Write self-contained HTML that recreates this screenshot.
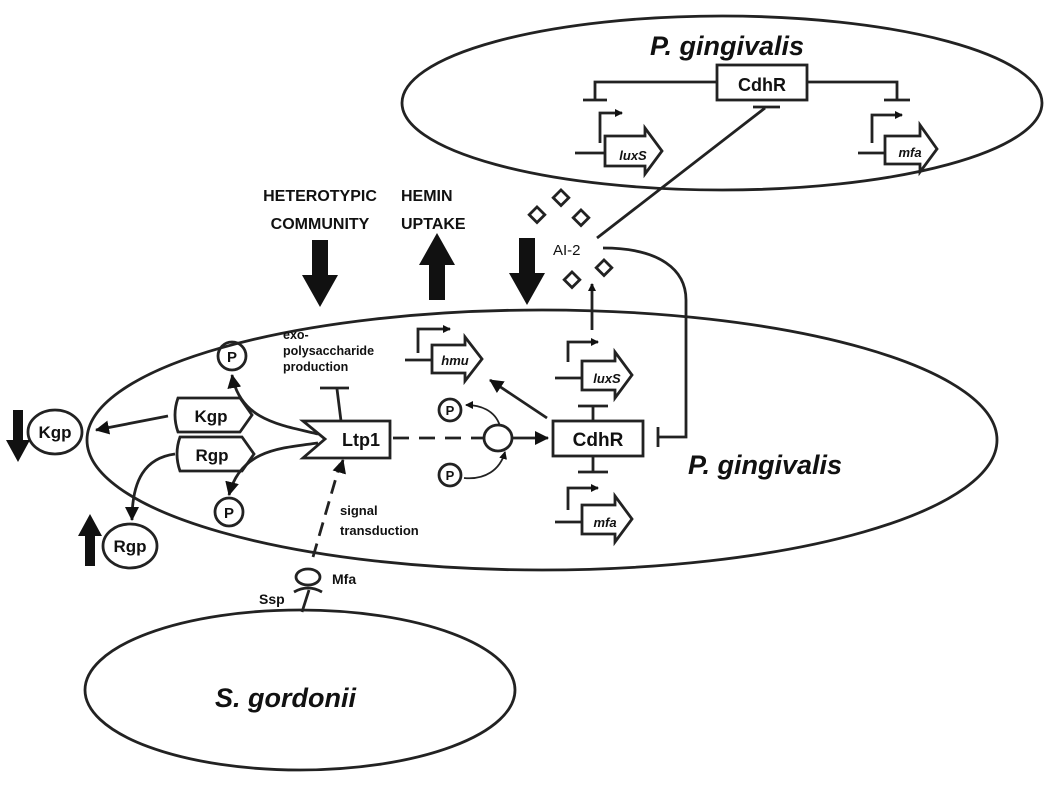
<!DOCTYPE html><html><head><style>body{margin:0;background:#fff}svg{display:block}text{font-family:"Liberation Sans",sans-serif;fill:#111}</style></head><body>
<svg width="1050" height="785" viewBox="0 0 1050 785" xmlns="http://www.w3.org/2000/svg">
<defs><marker id="a" markerWidth="8" markerHeight="8" refX="7" refY="4" orient="auto" markerUnits="userSpaceOnUse"><path d="M0,0 L8,4 L0,8z" fill="#111"/></marker>
<marker id="b" markerWidth="14" markerHeight="14" refX="13" refY="7" orient="auto" markerUnits="userSpaceOnUse"><path d="M0,0 L14,7 L0,14z" fill="#111"/></marker></defs>
<g fill="none" stroke="#222" stroke-width="2.8">
<ellipse cx="722" cy="103" rx="320" ry="87"/>
<ellipse cx="542" cy="440" rx="455" ry="130"/>
<ellipse cx="300" cy="690" rx="215" ry="80"/>
<rect x="717" y="65" width="90" height="35" fill="#fff"/>
<path d="M717,82 H595 V100 M583,100 H607 M807,82 H897 V100 M884,100 H910"/>
<path d="M753,107 H780 M765,108 L597,238"/>
<path d="M600,143 V113 H622" marker-end="url(#a)"/>
<path d="M575,153 H605"/>
<path d="M605,136 H645 V128 L662,151 L645,174 V166 H605z" fill="#fff"/>
<path d="M872,143 V115 H902" marker-end="url(#a)"/>
<path d="M858,153 H885"/>
<path d="M885,136 H920 V125 L937,149 L920,172 V164 H885z" fill="#fff"/>
<path d="M603,248 C660,248 686,270 686,300 V437 H659 M658,427 V447" />
<path d="M592,330 V284" marker-end="url(#a)"/>
<rect x="553" y="421" width="90" height="35"/>
<path d="M593,421 V406 M578,406 H608 M593,456 V472 M578,472 H608"/>
<path d="M568,362 V342 H598" marker-end="url(#a)"/>
<path d="M555,378 H582"/>
<path d="M582,361 H615 V352 L632,375 L615,398 V390 H582z" fill="#fff"/>
<path d="M568,510 V488 H598" marker-end="url(#a)"/>
<path d="M555,522 H582"/>
<path d="M582,505 H615 V496 L632,519 L615,542 V534 H582z" fill="#fff"/>
<path d="M418,353 V329 H450" marker-end="url(#a)"/>
<path d="M405,360 H432"/>
<path d="M432,345 H465 V337 L482,359 L465,381 V373 H432z" fill="#fff"/>
<path d="M547,418 L490,380" marker-end="url(#b)"/>
<ellipse cx="498" cy="438" rx="14" ry="13"/>
<path d="M393,438 H484" stroke-dasharray="16,10"/>
<path d="M513,438 H548" marker-end="url(#b)"/>
<circle cx="450" cy="410" r="11"/><circle cx="450" cy="475" r="11"/>
<path d="M500,426 C495,410 480,405 466,405" marker-end="url(#a)" stroke-width="1.8"/>
<path d="M464,478 C485,480 500,470 505,452" marker-end="url(#a)" stroke-width="1.8"/>
<path d="M303,421 H390 V458 H303 L325,439z" fill="#fff"/>
<path d="M341,421 L337,389 M320,388 H349"/>
<path d="M313,557 L340,464" stroke-dasharray="14,8"/>
<path d="M340,470 L343,460" marker-end="url(#b)"/>
<path d="M178,398 H240 L252,415 L240,432 H178 Q172,415 178,398z" fill="#fff"/>
<path d="M180,437 H242 L254,454 L242,471 H180 Q174,454 180,437z" fill="#fff"/>
<ellipse cx="55" cy="432" rx="27" ry="22" fill="#fff"/>
<ellipse cx="130" cy="546" rx="27" ry="22" fill="#fff"/>
<circle cx="232" cy="356" r="14"/><circle cx="229" cy="512" r="14"/>
<path d="M168,416 L96,430" marker-end="url(#b)"/>
<path d="M175,454 C145,458 132,480 132,520" marker-end="url(#b)"/>
<path d="M318,434 C280,425 240,420 232,375" marker-end="url(#b)"/>
<path d="M318,443 C280,448 240,450 229,495" marker-end="url(#b)"/>
<ellipse cx="308" cy="577" rx="12" ry="8"/>
<path d="M294,592 Q308,584 322,592 M309,590 L302,612"/>
</g>
<g fill="#111">
<path d="M312,240 h16 v35 h10 l-18,32 l-18,-32 h10z"/>
<path d="M429,300 h16 v-35 h10 l-18,-32 l-18,32 h10z"/>
<path d="M519,238 h16 v35 h10 l-18,32 l-18,-32 h10z"/>
<path d="M13,410 h10 v30 h7 l-12,22 l-12,-22 h7z"/>
<path d="M85,566 h10 v-30 h7 l-12,-22 l-12,22 h7z"/>
</g>
<g fill="#fff" stroke="#222" stroke-width="2.8">
<rect x="532" y="209" width="11" height="11" transform="rotate(45 537 214)"/>
<rect x="556" y="192" width="11" height="11" transform="rotate(45 561 197)"/>
<rect x="576" y="212" width="11" height="11" transform="rotate(45 581 217)"/>
<rect x="567" y="274" width="11" height="11" transform="rotate(45 572 279)"/>
<rect x="599" y="262" width="11" height="11" transform="rotate(45 604 267)"/>
</g>
<g font-weight="bold">
<text x="650" y="55" font-size="27" font-style="italic">P. gingivalis</text>
<text x="762" y="91" font-size="18" text-anchor="middle">CdhR</text>
<text x="633" y="160" font-size="13" font-style="italic" text-anchor="middle">luxS</text>
<text x="910" y="157" font-size="13" font-style="italic" text-anchor="middle">mfa</text>
<text x="320" y="201" font-size="16" text-anchor="middle">HETEROTYPIC</text>
<text x="320" y="229" font-size="16" text-anchor="middle">COMMUNITY</text>
<text x="401" y="201" font-size="16">HEMIN</text>
<text x="401" y="229" font-size="16">UPTAKE</text>
<text x="598" y="446" font-size="19" text-anchor="middle">CdhR</text>
<text x="607" y="383" font-size="13" font-style="italic" text-anchor="middle">luxS</text>
<text x="605" y="527" font-size="13" font-style="italic" text-anchor="middle">mfa</text>
<text x="455" y="365" font-size="13" font-style="italic" text-anchor="middle">hmu</text>
<text x="283" y="339" font-size="12.5">exo-</text>
<text x="283" y="355" font-size="12.5">polysaccharide</text>
<text x="283" y="371" font-size="12.5">production</text>
<text x="361" y="446" font-size="18" text-anchor="middle">Ltp1</text>
<text x="211" y="422" font-size="17" text-anchor="middle">Kgp</text>
<text x="212" y="461" font-size="17" text-anchor="middle">Rgp</text>
<text x="55" y="438" font-size="17" text-anchor="middle">Kgp</text>
<text x="130" y="552" font-size="17" text-anchor="middle">Rgp</text>
<text x="232" y="362" font-size="15" text-anchor="middle">P</text>
<text x="229" y="518" font-size="15" text-anchor="middle">P</text>
<text x="450" y="415" font-size="13" text-anchor="middle">P</text>
<text x="450" y="480" font-size="13" text-anchor="middle">P</text>
<text x="688" y="474" font-size="27" font-style="italic">P. gingivalis</text>
<text x="215" y="707" font-size="27" font-style="italic">S. gordonii</text>
<text x="332" y="584" font-size="14">Mfa</text>
<text x="259" y="604" font-size="14">Ssp</text>
<text x="340" y="515" font-size="13" fill="#333">signal</text>
<text x="340" y="535" font-size="13" fill="#333">transduction</text>
</g>
<text x="553" y="255" font-size="15">AI-2</text>
</svg></body></html>
